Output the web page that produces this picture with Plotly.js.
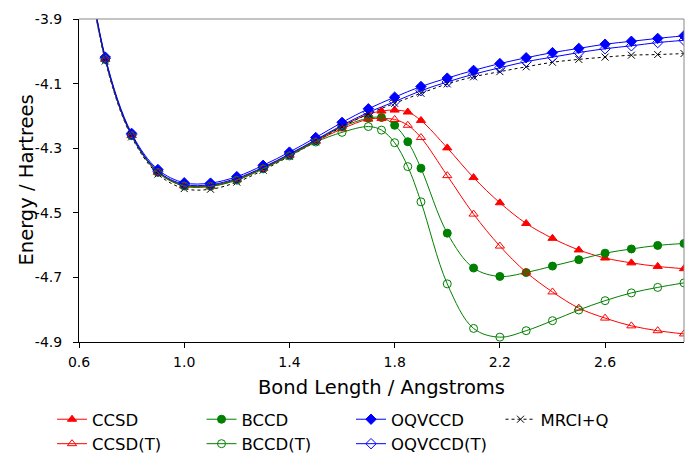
<!DOCTYPE html>
<html>
<head>
<meta charset="utf-8">
<script src="https://cdn.plot.ly/plotly-3.0.1.min.js"></script>
<style>html,body{margin:0;padding:0;background:#fff;overflow:hidden}#chart{width:690px;height:470px}</style>
</head>
<body>
<div id="chart"></div>
<script>
// Bond lengths (Angstrom)
const xMain = [0.6,0.7,0.8,0.9,1.0,1.1,1.2,1.3,1.4,1.5,1.6,1.7,1.8,1.9,2.0,2.1,2.2,2.3,2.4,2.5,2.6,2.7,2.8,2.9];
const xExt  = [0.6,0.7,0.8,0.9,1.0,1.1,1.2,1.3,1.4,1.5,1.6,1.7,1.75,1.8,1.85,1.9,2.0,2.1,2.2,2.3,2.4,2.5,2.6,2.7,2.8,2.9];

// Energies (Hartree)
const ccsd   = [-3.555,-4.024,-4.260,-4.373,-4.415,-4.416,-4.396,-4.361,-4.320,-4.276,-4.232,-4.195,-4.185,-4.182,-4.188,-4.214,-4.299,-4.391,-4.469,-4.533,-4.579,-4.615,-4.640,-4.655,-4.666,-4.673];
const ccsdT  = [-3.556,-4.025,-4.261,-4.375,-4.417,-4.418,-4.398,-4.363,-4.323,-4.279,-4.240,-4.210,-4.208,-4.211,-4.229,-4.267,-4.385,-4.504,-4.603,-4.684,-4.745,-4.795,-4.826,-4.850,-4.865,-4.875];
const bccd   = [-3.555,-4.024,-4.260,-4.373,-4.415,-4.416,-4.396,-4.361,-4.320,-4.277,-4.234,-4.207,-4.205,-4.229,-4.280,-4.362,-4.563,-4.671,-4.697,-4.685,-4.665,-4.645,-4.625,-4.612,-4.601,-4.595];
const bccdT  = [-3.556,-4.025,-4.261,-4.375,-4.417,-4.418,-4.399,-4.364,-4.324,-4.281,-4.251,-4.233,-4.244,-4.283,-4.357,-4.466,-4.720,-4.858,-4.885,-4.865,-4.834,-4.801,-4.772,-4.748,-4.731,-4.717];
const oqvccd = [-3.550,-4.018,-4.254,-4.366,-4.407,-4.408,-4.388,-4.353,-4.312,-4.267,-4.220,-4.178,-4.142,-4.109,-4.083,-4.059,-4.038,-4.020,-4.004,-3.991,-3.978,-3.969,-3.960,-3.952];
const oqvccdT= [-3.553,-4.022,-4.258,-4.371,-4.412,-4.413,-4.393,-4.359,-4.318,-4.274,-4.229,-4.189,-4.156,-4.122,-4.095,-4.071,-4.051,-4.032,-4.018,-4.004,-3.992,-3.983,-3.973,-3.966];
const mrciq  = [-3.560,-4.030,-4.265,-4.380,-4.425,-4.427,-4.405,-4.368,-4.325,-4.280,-4.234,-4.194,-4.161,-4.130,-4.101,-4.079,-4.063,-4.048,-4.034,-4.025,-4.018,-4.012,-4.010,-4.007];

const xTicks = [0.6,1.0,1.4,1.8,2.2,2.6];
const yTicks = [-3.9,-4.1,-4.3,-4.5,-4.7,-4.9];

const RED='#ff0000', GREEN='#008000', BLUE='#0000ff';
function tr(name,x,y,color,symbol,dash){
  return {type:'scatter',mode:'lines+markers',name:name,x:x,y:y,
    line:{color:color,width:1,shape:'spline',smoothing:1,dash:dash||'solid'},
    marker:{color:color,symbol:symbol,size:symbol.indexOf('x')===0?7:8,line:{color:color,width:1}}};
}
const data = [
  tr('CCSD',xExt,ccsd,RED,'triangle-up'),
  tr('BCCD',xExt,bccd,GREEN,'circle'),
  tr('OQVCCD',xMain,oqvccd,BLUE,'diamond'),
  tr('MRCI+Q',xMain,mrciq,'#000000','x-thin-open','dot'),
  tr('CCSD(T)',xExt,ccsdT,RED,'triangle-up-open'),
  tr('BCCD(T)',xExt,bccdT,GREEN,'circle-open'),
  tr('OQVCCD(T)',xMain,oqvccdT,BLUE,'diamond-open')
];
const F='DejaVu Sans';
const H=470;
const layout = {
  width:690,height:H,
  margin:{l:79,r:6,t:19,b:H-342},
  paper_bgcolor:'#fff',plot_bgcolor:'#fff',
  font:{family:F,color:'#000',size:14},
  showlegend:true,
  legend:{orientation:'h',xref:'container',yref:'container',x:0.0754,xanchor:'left',y:1-402/H,yanchor:'top',
    entrywidth:104.5,entrywidthmode:'pixels',font:{family:F,size:16.5},itemwidth:30,
    traceorder:'normal',bgcolor:'rgba(0,0,0,0)'},
  xaxis:{range:[0.6,2.9],tickmode:'array',tickvals:xTicks,ticktext:xTicks.map(v=>v.toFixed(1)),
    showgrid:false,zeroline:false,showline:true,linecolor:'#000',linewidth:1,automargin:false,
    ticks:'outside',ticklen:5,tickcolor:'#000',tickfont:{family:F,size:14},ticklabelstandoff:2,
    title:{text:'Bond Length / Angstroms',font:{family:F,size:19.5},standoff:11}},
  yaxis:{range:[-4.9,-3.9],tickmode:'array',tickvals:yTicks,ticktext:yTicks.map(v=>v.toFixed(1)),
    showgrid:false,zeroline:false,showline:true,linecolor:'#000',linewidth:1,automargin:false,
    ticks:'outside',ticklen:5,tickcolor:'#000',tickfont:{family:F,size:14},ticklabelstandoff:8},
  annotations:[
    {text:'Energy / Hartrees',textangle:-90,xref:'paper',yref:'paper',x:(26-79)/605,y:0.5,
     xanchor:'center',yanchor:'middle',showarrow:false,font:{family:F,size:19.5}}
  ],
  shapes:[
    {type:'line',xref:'paper',yref:'paper',x0:0,x1:1,y0:1,y1:1,line:{color:'#888',width:1}},
    {type:'line',xref:'paper',yref:'paper',x0:1,x1:1,y0:0,y1:1,line:{color:'#888',width:1}}
  ]
};
Plotly.newPlot('chart',data,layout,{displayModeBar:false,staticPlot:true});
</script>
</body>
</html>
